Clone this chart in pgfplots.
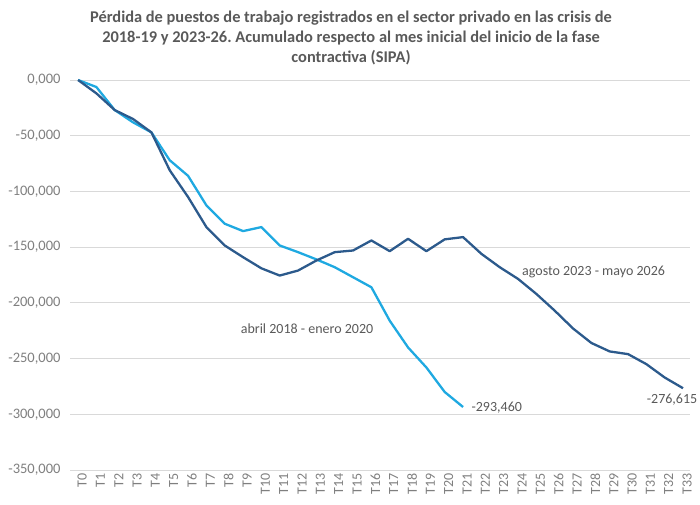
\documentclass[border=0pt]{standalone}
\usepackage{pgfplots}
\pgfplotsset{compat=1.18}
\usepackage{fontspec}
\setmainfont{Carlito}
\frenchspacing
\definecolor{darkb}{HTML}{2C5A8C}
\definecolor{lightb}{HTML}{1FA9E1}
\definecolor{txt}{HTML}{595959}
\definecolor{tick}{HTML}{7F7F7F}
\definecolor{gridc}{HTML}{D9D9D9}
\begin{document}
\begin{tikzpicture}
\useasboundingbox (0,0) rectangle (700pt,504pt);
\node[align=center, text=txt, font=\fontsize{16.4}{20}\selectfont\bfseries] at (351pt,466pt)
{Pérdida de puestos de trabajo registrados en el sector privado en las crisis de\\
2018-19 y 2023-26. Acumulado respecto al mes inicial del inicio de la fase\\
contractiva (SIPA)};
\begin{axis}[
  at={(70pt,34pt)}, anchor=south west,
  scale only axis, width=620pt, height=390pt,
  xmin=-0.44, xmax=33.38, ymin=-350000, ymax=0,
  clip=false, scaled y ticks=false,
  axis line style={draw=none},
  major tick length=0pt,
  ymajorgrids, grid style={color=gridc, line width=1pt},
  ytick={-350000,-300000,-250000,-200000,-150000,-100000,-50000,0},
  yticklabels={{-350,000},{-300,000},{-250,000},{-200,000},{-150,000},{-100,000},{-50,000},{0,000}},
  xtick={0,...,33},
  xticklabels={T0,T1,T2,T3,T4,T5,T6,T7,T8,T9,T10,T11,T12,T13,T14,T15,T16,T17,T18,T19,T20,T21,T22,T23,T24,T25,T26,T27,T28,T29,T30,T31,T32,T33},
  yticklabel style={font=\fontsize{14.5}{16}\selectfont, text=tick, xshift=-6pt},
  xticklabel style={font=\fontsize{14}{16}\selectfont, text=tick, rotate=90, anchor=east, yshift=-4pt},
]
\addplot[lightb, line width=2.3pt, line join=round] coordinates {
(0,0) (1,-6300) (2,-27000) (3,-38000) (4,-47000) (5,-72000) (6,-86000) (7,-112500)
(8,-129000) (9,-135600) (10,-132000) (11,-148500) (12,-154500) (13,-161000) (14,-168000)
(15,-177000) (16,-186000) (17,-216000) (18,-240000) (19,-258000) (20,-280000) (21,-293460)};
\addplot[darkb, line width=2.3pt, line join=round] coordinates {
(0,0) (1,-12000) (2,-27000) (3,-35000) (4,-47000) (5,-81000) (6,-105000) (7,-132000)
(8,-148500) (9,-159000) (10,-169000) (11,-175500) (12,-171000) (13,-162000) (14,-154500)
(15,-153000) (16,-144000) (17,-153600) (18,-142500) (19,-153600) (20,-143000) (21,-141000)
(22,-156000) (23,-168000) (24,-178500) (25,-192000) (26,-207000) (27,-223000) (28,-236000)
(29,-243600) (30,-246000) (31,-255000) (32,-267000) (33,-276615)};
\node[anchor=west, text=txt, font=\fontsize{14}{16}\selectfont, xshift=5pt, yshift=-1pt] at (axis cs:21,-293460) {-293,460};
\node[anchor=north, text=txt, font=\fontsize{14}{16}\selectfont, xshift=-11pt, yshift=-2pt] at (axis cs:33,-276615) {-276,615};
\node[text=txt, font=\fontsize{14}{16}\selectfont] at (axis cs:28.12,-172300) {agosto 2023 - mayo 2026};
\node[text=txt, font=\fontsize{14}{16}\selectfont] at (axis cs:12.49,-223500) {abril 2018 - enero 2020};
\end{axis}
\end{tikzpicture}
\end{document}
